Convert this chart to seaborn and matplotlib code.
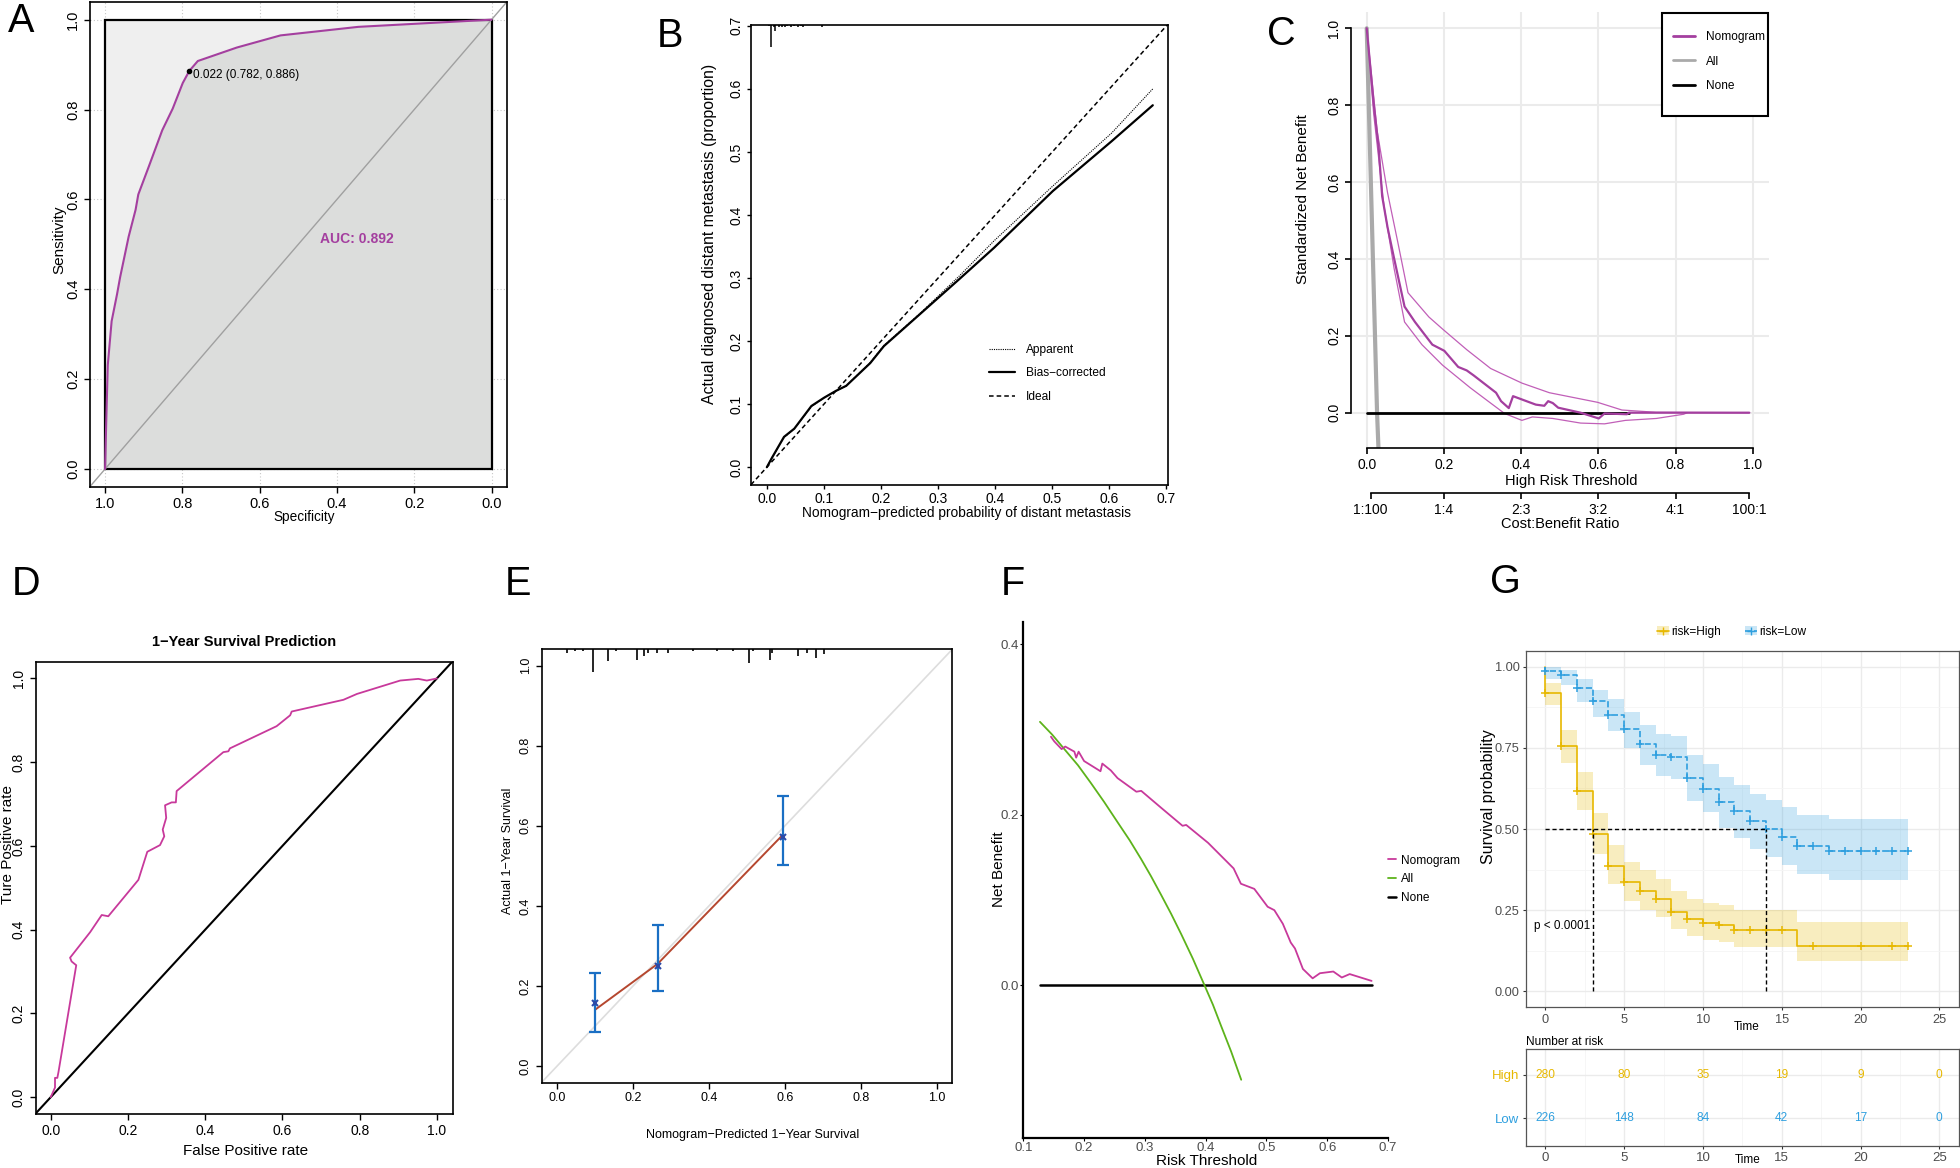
import numpy as np
import matplotlib
matplotlib.use('Agg')
import matplotlib.pyplot as plt
from matplotlib.lines import Line2D
from matplotlib.patches import Patch, Rectangle
import seaborn as sns

# ---------------- data ----------------
# A: ROC of the nomogram (specificity, sensitivity)
roc_spec = [1.0, 0.997, 0.993, 0.983, 0.969, 0.961, 0.939, 0.921, 0.914, 0.886, 0.852,
            0.825, 0.799, 0.782, 0.760, 0.659, 0.546, 0.345, 0.0]
roc_sens = [0.0, 0.104, 0.231, 0.329, 0.389, 0.427, 0.517, 0.577, 0.611, 0.675, 0.754,
            0.802, 0.859, 0.886, 0.908, 0.938, 0.965, 0.984, 1.0]
best_thr, best_spec, best_sens = 0.022, 0.782, 0.886
auc_a = 0.892

# B: calibration curve for distant metastasis
cal_bias_x = [0.0, 0.009, 0.030, 0.048, 0.078, 0.100, 0.121, 0.139, 0.181, 0.205, 0.266,
              0.338, 0.398, 0.501, 0.604, 0.652, 0.676]
cal_bias_y = [0.0, 0.015, 0.048, 0.061, 0.097, 0.110, 0.121, 0.129, 0.165, 0.192, 0.241,
              0.299, 0.348, 0.438, 0.517, 0.555, 0.574]
cal_app_x = [0.0, 0.009, 0.030, 0.048, 0.078, 0.100, 0.121, 0.139, 0.181, 0.205, 0.266,
             0.338, 0.398, 0.501, 0.604, 0.676]
cal_app_y = [0.0, 0.015, 0.047, 0.061, 0.096, 0.110, 0.121, 0.129, 0.166, 0.193, 0.242,
             0.304, 0.359, 0.446, 0.530, 0.600]
rug_b_x = [0.004, 0.008, 0.012, 0.015, 0.021, 0.027, 0.032, 0.036, 0.042, 0.047, 0.055,
           0.060, 0.063, 0.096, 0.124, 0.18, 0.22, 0.28, 0.33, 0.40]
rug_b_n = [2, 40, 3, 11, 3, 3, 3, 2, 3, 2, 3, 2, 3, 3, 1, 1, 1, 1, 1, 1]

# C: standardized decision curve
dca_x = [0.0, 0.018, 0.031, 0.040, 0.054, 0.071, 0.098, 0.125, 0.170, 0.201, 0.237, 0.259,
         0.277, 0.335, 0.348, 0.368, 0.379, 0.438, 0.460, 0.470, 0.482, 0.496, 0.554, 0.601,
         0.616, 0.674, 0.679, 0.991]
dca_y = [1.0, 0.805, 0.688, 0.563, 0.482, 0.401, 0.276, 0.236, 0.177, 0.161, 0.119, 0.110,
         0.097, 0.052, 0.030, 0.012, 0.043, 0.021, 0.018, 0.030, 0.025, 0.013, 0.0, -0.015,
         -0.002, -0.004, 0.0, 0.0]
dca_hi_x = [0.0, 0.027, 0.054, 0.080, 0.107, 0.161, 0.196, 0.259, 0.321, 0.402, 0.473,
            0.598, 0.661, 0.750, 0.991]
dca_hi_y = [1.0, 0.733, 0.572, 0.446, 0.312, 0.249, 0.218, 0.164, 0.115, 0.077, 0.052,
            0.027, 0.007, 0.001, 0.0]
dca_lo_x = [0.0, 0.018, 0.045, 0.071, 0.098, 0.143, 0.196, 0.268, 0.321, 0.357, 0.402,
            0.429, 0.482, 0.554, 0.616, 0.670, 0.750, 0.821, 0.830]
dca_lo_y = [1.0, 0.778, 0.536, 0.375, 0.236, 0.177, 0.124, 0.065, 0.025, -0.002, -0.020,
            -0.011, -0.015, -0.027, -0.029, -0.020, -0.015, -0.004, 0.0]
dca_all_x = [0.0, 0.0268, 0.0315]
dca_all_y = [1.0, 0.0, -0.12]
dca_none_x = [0.0, 0.679]
dca_none_y = [0.0, 0.0]
cb_pos = [0.01, 0.2, 0.4, 0.6, 0.8, 0.99]
cb_labels = ['1:100', '1:4', '2:3', '3:2', '4:1', '100:1']

# D: 1-year ROC
d_fpr = [0.0, 0.011, 0.011, 0.017, 0.020, 0.066, 0.054, 0.050, 0.102, 0.132, 0.149, 0.227,
         0.250, 0.283, 0.294, 0.290, 0.299, 0.296, 0.313, 0.324, 0.326, 0.447, 0.460, 0.464,
         0.585, 0.620, 0.624, 0.758, 0.793, 0.905, 0.952, 0.974, 1.0]
d_tpr = [0.0, 0.023, 0.046, 0.046, 0.060, 0.315, 0.324, 0.333, 0.394, 0.435, 0.432, 0.519,
         0.586, 0.602, 0.623, 0.639, 0.667, 0.697, 0.704, 0.704, 0.731, 0.824, 0.826, 0.833,
         0.886, 0.912, 0.921, 0.949, 0.963, 0.995, 0.999, 0.995, 1.0]

# E: 1-year calibration
e_pred = [0.0993, 0.2645, 0.595]
e_line = [0.140, 0.255, 0.578]
e_obs = [0.157, 0.249, 0.571]
e_lo = [0.084, 0.186, 0.501]
e_hi = [0.232, 0.351, 0.675]
rug_e_x = [0.026, 0.047, 0.069, 0.095, 0.134, 0.156, 0.209, 0.228, 0.240, 0.264, 0.291,
           0.359, 0.420, 0.464, 0.506, 0.517, 0.561, 0.567, 0.635, 0.657, 0.682, 0.703]
rug_e_n = [2, 1, 1, 13, 7, 1, 6, 4, 2, 2, 2, 1, 1, 1, 8, 1, 6, 2, 4, 2, 5, 3]

# F: decision curve
f_nomo_x = [0.1455, 0.151, 0.163, 0.169, 0.184, 0.187, 0.191, 0.200, 0.227, 0.230, 0.244,
            0.255, 0.286, 0.294, 0.327, 0.362, 0.368, 0.404, 0.446, 0.458, 0.480, 0.502,
            0.513, 0.527, 0.540, 0.547, 0.560, 0.576, 0.588, 0.610, 0.624, 0.637, 0.673]
f_nomo_y = [0.2915, 0.286, 0.277, 0.280, 0.274, 0.267, 0.274, 0.263, 0.251, 0.260, 0.252,
            0.243, 0.227, 0.228, 0.208, 0.187, 0.188, 0.167, 0.137, 0.119, 0.113, 0.092,
            0.088, 0.072, 0.050, 0.043, 0.019, 0.008, 0.014, 0.016, 0.009, 0.013, 0.005]
f_all_x = [0.1274, 0.1475, 0.1675, 0.19, 0.2114, 0.233, 0.2553, 0.275, 0.2938, 0.31, 0.3267,
           0.343, 0.3597, 0.379, 0.398, 0.412, 0.4255, 0.442, 0.4585]
f_all_y = [0.309, 0.294, 0.277, 0.258, 0.237, 0.215, 0.191, 0.170, 0.148, 0.128, 0.106,
           0.084, 0.060, 0.031, 0.0, -0.023, -0.048, -0.078, -0.111]
f_none_x = [0.1274, 0.674]
f_none_y = [0.0, 0.0]

# G: Kaplan-Meier by risk group
high_t = [0, 0, 1, 2, 3, 4, 5, 6, 7, 8, 9, 10, 11, 12, 16, 23]
high_s = [1.0, 0.921, 0.757, 0.616, 0.484, 0.387, 0.335, 0.309, 0.283, 0.245, 0.222, 0.209,
          0.203, 0.187, 0.138, 0.138]
high_lo = [1.0, 0.884, 0.704, 0.558, 0.424, 0.329, 0.277, 0.251, 0.229, 0.193, 0.169, 0.158,
           0.152, 0.137, 0.092, 0.092]
high_hi = [1.0, 0.950, 0.806, 0.675, 0.550, 0.451, 0.398, 0.372, 0.347, 0.308, 0.283, 0.272,
           0.265, 0.249, 0.212, 0.212]
high_cens = [0, 1, 2, 3, 4, 5, 6, 7, 8, 9, 10, 11, 12, 13, 14, 15, 17, 20, 22, 23]
low_t = [0, 0, 1, 2, 3, 4, 5, 6, 7, 8, 9, 10, 11, 12, 13, 14, 15, 16, 18, 23]
low_s = [1.0, 0.988, 0.974, 0.934, 0.894, 0.853, 0.808, 0.763, 0.728, 0.723, 0.657, 0.624,
         0.584, 0.555, 0.524, 0.500, 0.475, 0.449, 0.432, 0.432]
low_lo = [1.0, 0.962, 0.944, 0.893, 0.844, 0.801, 0.749, 0.697, 0.662, 0.654, 0.585, 0.552,
          0.503, 0.473, 0.439, 0.415, 0.390, 0.362, 0.344, 0.344]
low_hi = [1.0, 1.0, 0.990, 0.962, 0.929, 0.900, 0.862, 0.821, 0.793, 0.786, 0.729, 0.700,
          0.659, 0.637, 0.608, 0.588, 0.567, 0.544, 0.531, 0.531]
low_cens = list(range(0, 24))
risk_times = [0, 5, 10, 15, 20, 25]
risk_high = [280, 80, 35, 19, 9, 0]
risk_low = [226, 148, 84, 42, 17, 0]

# ---------------- style ----------------
sns.set_style('ticks')
plt.rcParams['font.family'] = ['Liberation Sans', 'DejaVu Sans']
plt.rcParams.update({'axes.edgecolor': 'black', 'text.color': 'black',
                     'axes.labelcolor': 'black', 'xtick.color': 'black',
                     'ytick.color': 'black', 'axes.linewidth': 1.2})

PURPLE = '#a43f9f'
PINK = '#c8399b'
YEL = '#E7B800'
BLU = '#2E9FDF'
W, H = 1960, 1168
fig = plt.figure(figsize=(W / 100, H / 100), dpi=100)


def rect(box):
    l, t, r, b = box
    return [l / W, 1 - b / H, (r - l) / W, (b - t) / H]


def frac(box, x, y):
    l, t, r, b = box
    return (x - l) / (r - l), (b - y) / (b - t)


def place(ax, box, xlab=None, ylab=None):
    if xlab is not None:
        ax.xaxis.set_label_coords(*frac(box, *xlab))
        ax.xaxis.label.set_va('center')
    if ylab is not None:
        ax.yaxis.set_label_coords(*frac(box, *ylab))
        ax.yaxis.label.set_va('center')


def line(ax, x, y, **kw):
    sns.lineplot(x=x, y=y, ax=ax, sort=False, estimator=None, **kw)


t01 = [0, 0.2, 0.4, 0.6, 0.8, 1.0]
lab01 = [f'{v:.1f}' for v in t01]

# ---------------- A ----------------
boxA = (89.6, 1.7, 507, 487)
axA = fig.add_axes(rect(boxA))
axA.set_xlim(1.04, -0.04)
axA.set_ylim(-0.04, 1.04)
axA.set_xticks(t01, lab01)
axA.set_yticks(t01, lab01, rotation=90, va='center')
axA.tick_params(length=4, width=1, labelsize=10.5, pad=3)
axA.grid(True, ls=(0, (1, 2)), color='#c8c8c8', lw=0.8)
axA.set_axisbelow(True)
axA.fill_between([0, 1], 0, 1, color='#efefef', lw=0, zorder=1)
axA.fill_between(roc_spec, 0, roc_sens, color='#dcdddc', lw=0, zorder=1.2)
axA.add_patch(Rectangle((0, 0), 1, 1, fill=False, ec='black', lw=1.6, zorder=2))
axA.axline((1, 0), (0, 1), color='#a0a0a0', lw=1, zorder=2.5)
line(axA, roc_spec, roc_sens, color=PURPLE, lw=1.5, zorder=3)
axA.plot([best_spec], [best_sens], 'o', ms=3, color='black', zorder=4)
axA.text(best_spec - 0.01, best_sens + 0.005, f'{best_thr:.3f} ({best_spec:.3f}, {best_sens:.3f})',
         ha='left', va='top', fontsize=8.5)
axA.text(0.445, 0.512, f'AUC: {auc_a:.3f}', color=PURPLE, fontweight='bold', fontsize=10,
         ha='left', va='center')
axA.set_xlabel('Specificity', fontsize=9.8)
axA.set_ylabel('Sensitivity', fontsize=11)
place(axA, boxA, xlab=(304, 517), ylab=(59, 240))

# ---------------- B ----------------
boxB = (750.9, 24.8, 1168.2, 484.8)
axB = fig.add_axes(rect(boxB))
axB.set_xlim(-0.028, 0.703)
axB.set_ylim(-0.028, 0.7016)
t07 = [0, 0.1, 0.2, 0.3, 0.4, 0.5, 0.6, 0.7]
axB.set_xticks(t07, [f'{v:.1f}' for v in t07])
axB.set_yticks(t07, [f'{v:.1f}' for v in t07], rotation=90, va='center')
axB.tick_params(length=3, width=1, labelsize=10, pad=2)
axB.axline((0, 0), (0.7, 0.7), color='black', lw=1.1, ls=(0, (3, 2)))
line(axB, cal_app_x, cal_app_y, color='black', lw=0.8, ls=(0, (1, 1)))
line(axB, cal_bias_x, cal_bias_y, color='black', lw=1.6)
top_b = axB.get_ylim()[1]
axB.vlines(rug_b_x, top_b - np.array(rug_b_n) * 0.0009, top_b, color='black', lw=1.1)
hB = [Line2D([], [], color='black', lw=0.8, ls=(0, (1, 1))),
      Line2D([], [], color='black', lw=1.6),
      Line2D([], [], color='black', lw=1.1, ls=(0, (3, 2)))]
axB.legend(hB, ['Apparent', 'Bias−corrected', 'Ideal'], loc='upper left',
           bbox_to_anchor=(0.571, 0.306), frameon=False, fontsize=8.6, borderpad=0,
           borderaxespad=0, handlelength=2.2, handletextpad=0.9, labelspacing=0.95)
axB.set_xlabel('Nomogram−predicted probability of distant metastasis', fontsize=9.9)
axB.set_ylabel('Actual diagnosed distant metastasis (proportion)', fontsize=11.4)
place(axB, boxB, xlab=(966, 513), ylab=(709, 234))

# ---------------- C ----------------
boxC = (1351, 12.1, 1769, 448.3)
axC = fig.add_axes(rect(boxC))
axC.set_xlim(-0.0407, 1.042)
axC.set_ylim(-0.0926, 1.042)
axC.set_xticks(t01, lab01)
axC.set_yticks(t01, lab01, rotation=90, va='center')
axC.tick_params(length=4, width=1.2, labelsize=10, pad=3)
axC.grid(True, color='#ebebeb', lw=1.5)
for s in ['top', 'right']:
    axC.spines[s].set_visible(False)
axC.spines['left'].set_bounds(0, 1)
axC.spines['bottom'].set_bounds(0, 1)
line(axC, dca_hi_x, dca_hi_y, color='#c15fb8', lw=0.9)
line(axC, dca_lo_x, dca_lo_y, color='#c15fb8', lw=0.9)
line(axC, dca_all_x, dca_all_y, color='#aaaaaa', lw=3)
line(axC, dca_none_x, dca_none_y, color='black', lw=2)
line(axC, dca_x, dca_y, color=PURPLE, lw=1.6)
# legend box (R style) drawn as a frame in axes fraction
lx0, ly0 = frac(boxC, 1661.7, 116)
lx1, ly1 = frac(boxC, 1768.3, 12.7)
axC.add_patch(Rectangle((lx0, ly0), lx1 - lx0, ly1 - ly0, transform=axC.transAxes,
                        fc='white', ec='black', lw=1.5, zorder=5, clip_on=False))
hC = [Line2D([], [], color=PURPLE, lw=2), Line2D([], [], color='#aaaaaa', lw=2),
      Line2D([], [], color='black', lw=2)]
legC = axC.legend(hC, ['Nomogram', 'All', 'None'], loc='upper left',
                  bbox_to_anchor=frac(boxC, 1672.7, 31), frameon=False, fontsize=8.6,
                  borderpad=0, borderaxespad=0, handlelength=1.9, handletextpad=0.9,
                  labelspacing=1.05)
legC.set_zorder(6)
secC = axC.secondary_xaxis(-0.1027)
secC.set_xticks(cb_pos, cb_labels)
secC.tick_params(length=4, width=1.2, labelsize=10, pad=3)
secC.spines['bottom'].set_bounds(0.01, 0.99)
secC.spines['bottom'].set_linewidth(1.2)
secC.set_xlabel('Cost:Benefit Ratio', fontsize=10.5, labelpad=0)
axC.set_xlabel('High Risk Threshold', fontsize=10.5)
axC.set_ylabel('Standardized Net Benefit', fontsize=11)
place(axC, boxC, xlab=(1571, 481), ylab=(1303, 199))

# ---------------- D ----------------
boxD = (35.7, 661.7, 452.7, 1114.3)
axD = fig.add_axes(rect(boxD))
axD.set_xlim(-0.039, 1.041)
axD.set_ylim(-0.041, 1.04)
axD.set_xticks(t01, lab01)
axD.set_yticks(t01, lab01, rotation=90, va='center')
axD.tick_params(length=4, width=1, labelsize=10, pad=3)
axD.axline((0, 0), (1, 1), color='black', lw=1.5)
line(axD, d_fpr, d_tpr, color=PINK, lw=1.3)
axD.set_title('1−Year Survival Prediction', fontsize=10.5, fontweight='bold',
              y=1 + (661.7 - 641.7) / (1114.3 - 661.7), va='center', pad=0)
axD.set_xlabel('False Positive rate', fontsize=11)
axD.set_ylabel('Ture Positive rate', fontsize=11)
place(axD, boxD, xlab=(246, 1151), ylab=(8, 845))

# ---------------- E ----------------
boxE = (541.7, 649.3, 952.3, 1082.7)
axE = fig.add_axes(rect(boxE))
axE.set_xlim(-0.041, 1.041)
axE.set_ylim(-0.042, 1.041)
axE.set_xticks(t01, lab01)
axE.set_yticks(t01, lab01, rotation=90, va='center')
axE.tick_params(length=4, width=1, labelsize=9, pad=3)
axE.axline((0, 0), (1, 1), color='#dddddd', lw=1.2)
line(axE, e_pred, e_line, color='#b5472f', lw=1.4)
axE.errorbar(e_pred, e_obs, yerr=[np.subtract(e_obs, e_lo), np.subtract(e_hi, e_obs)],
             fmt='none', ecolor='#1a6fc4', elinewidth=1.6, capsize=4, capthick=1.6)
axE.plot(e_pred, e_obs, ls='none', marker='x', ms=5, mew=1.5, color='#2c4aa8')
top_e = axE.get_ylim()[1]
axE.vlines(rug_e_x, top_e - np.array(rug_e_n) * 0.0043, top_e, color='black', lw=1.2)
axE.set_xlabel('Nomogram−Predicted 1−Year Survival', fontsize=9)
axE.set_ylabel('Actual 1−Year Survival', fontsize=9)
place(axE, boxE, xlab=(753, 1135), ylab=(508, 851))

# ---------------- F ----------------
boxF = (1023.3, 621.7, 1388, 1137.7)
axF = fig.add_axes(rect(boxF))
axF.set_xlim(0.1, 0.7)
axF.set_ylim(-0.179, 0.4265)
tF = [0.1, 0.2, 0.3, 0.4, 0.5, 0.6, 0.7]
axF.set_xticks(tF, [f'{v:.1f}' for v in tF])
axF.set_yticks([0.0, 0.2, 0.4], ['0.0', '0.2', '0.4'])
axF.tick_params(length=2, width=0.8, labelsize=9.5, labelcolor='#4d4d4d', pad=1)
for s in ['top', 'right']:
    axF.spines[s].set_visible(False)
axF.spines['left'].set_linewidth(1.6)
axF.spines['bottom'].set_linewidth(1.6)
line(axF, f_none_x, f_none_y, color='black', lw=1.8)
line(axF, f_all_x, f_all_y, color='#5db31b', lw=1.3)
line(axF, f_nomo_x, f_nomo_y, color=PINK, lw=1.3)
hF = [Line2D([], [], color=PINK, lw=1.3), Line2D([], [], color='#5db31b', lw=1.3),
      Line2D([], [], color='black', lw=1.8)]
axF.legend(hF, ['Nomogram', 'All', 'None'], loc='center left', bbox_to_anchor=(1.0, 0.501),
           frameon=False, fontsize=8.6, borderpad=0, borderaxespad=0, handlelength=0.7,
           handletextpad=0.4, labelspacing=0.55)
axF.set_xlabel('Risk Threshold', fontsize=11)
axF.set_ylabel('Net Benefit', fontsize=11)
place(axF, boxF, xlab=(1207, 1161), ylab=(999, 869))

# ---------------- G (KM) ----------------
boxG = (1525.7, 650.7, 1959, 1007.3)
axG = fig.add_axes(rect(boxG))
axG.set_xlim(-1.25, 26.25)
axG.set_ylim(-0.05, 1.05)
axG.set_xticks(risk_times)
axG.set_yticks([0, 0.25, 0.5, 0.75, 1.0], ['0.00', '0.25', '0.50', '0.75', '1.00'])
axG.set_xticks(np.arange(2.5, 26, 5), minor=True)
axG.set_yticks([0.125, 0.375, 0.625, 0.875], minor=True)
axG.tick_params(which='major', length=2.5, width=0.8, color='#333333', labelsize=9.2,
                labelcolor='#4d4d4d', pad=2)
axG.tick_params(which='minor', length=0)
axG.grid(True, which='major', color='#ebebeb', lw=1)
axG.grid(True, which='minor', color='#f5f5f5', lw=0.6)
for s in axG.spines.values():
    s.set_color('#555555')
    s.set_linewidth(0.9)

groups = [(high_t, high_s, high_lo, high_hi, high_cens, YEL, '-'),
          (low_t, low_s, low_lo, low_hi, low_cens, BLU, '--')]
medians = []
for t, s, lo, hi, cens, col, ls in groups:
    axG.fill_between(t, lo, hi, step='post', color=col, alpha=0.25, lw=0)
    line(axG, t, s, color=col, lw=1.2, ls=ls, drawstyle='steps-post')
    idx = np.searchsorted(t, cens, side='right') - 1
    axG.plot(cens, np.array(s)[idx], ls='none', marker='+', ms=6, mew=1.1, color=col)
    medians.append(t[int(np.argmax(np.array(s) <= 0.5))])
axG.hlines(0.5, 0, max(medians), colors='black', linestyles=(0, (3, 2)), lw=1)
axG.vlines(medians, 0, 0.5, colors='black', linestyles=(0, (3, 2)), lw=1)
axG.text(-0.75, 0.2, 'p < 0.0001', fontsize=8.5, ha='left', va='center')
hG = [(Patch(color=YEL, alpha=0.25, lw=0), Line2D([], [], color=YEL, marker='+', lw=1.2)),
      (Patch(color=BLU, alpha=0.25, lw=0), Line2D([], [], color=BLU, marker='+', lw=1.2, ls='--'))]
axG.legend(hG, ['risk=High', 'risk=Low'], loc='center', bbox_to_anchor=(0.475, 1.053),
           ncol=2, frameon=False, fontsize=8.6, handlelength=1.0, handletextpad=0.2,
           columnspacing=2.0, borderaxespad=0)
axG.set_xlabel('Time', fontsize=8.5)
axG.set_ylabel('Survival probability', fontsize=11.5)
place(axG, boxG, xlab=(1747, 1027), ylab=(1488, 797))

# risk table
boxT = (1525.7, 1049.3, 1959, 1145.7)
axT = fig.add_axes(rect(boxT))
axT.set_xlim(-1.25, 26.25)
axT.set_ylim(0.37, 2.59)
axT.set_xticks(risk_times)
axT.set_xticks(np.arange(2.5, 26, 5), minor=True)
axT.set_yticks([2, 1], ['High', 'Low'])
axT.tick_params(which='major', length=2.5, width=0.8, color='#333333', labelsize=9.5, pad=2)
axT.tick_params(axis='x', labelcolor='#4d4d4d')
axT.tick_params(which='minor', length=0)
for lab, col in zip(axT.get_yticklabels(), [YEL, BLU]):
    lab.set_color(col)
axT.grid(True, which='major', color='#ebebeb', lw=1)
axT.grid(True, which='minor', axis='x', color='#f5f5f5', lw=0.6)
for s in axT.spines.values():
    s.set_color('#555555')
    s.set_linewidth(0.9)
for row, counts, col in [(2, risk_high, YEL), (1, risk_low, BLU)]:
    for tt, n in zip(risk_times, counts):
        axT.text(tt, row, str(n), ha='center', va='center', color=col, fontsize=8.6)
axT.set_title('Number at risk', loc='left', fontsize=8.6, pad=3)
axT.set_xlabel('Time', fontsize=8.5)
place(axT, boxT, xlab=(1748, 1160))

# ---------------- panel letters ----------------
for letter, x, y in [('A', 8, 32), ('B', 657, 47), ('C', 1267, 45), ('D', 12, 595),
                     ('E', 505, 595), ('F', 1001, 595), ('G', 1490, 593)]:
    fig.text(x / W, 1 - y / H, letter, fontsize=28.5, ha='left', va='baseline')

fig.savefig('out.png', dpi=100)
